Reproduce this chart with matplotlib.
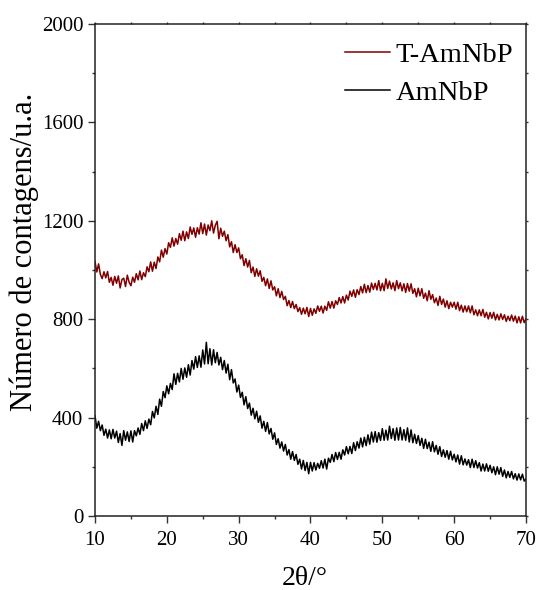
import numpy as np
import matplotlib
matplotlib.use("Agg")
import matplotlib.pyplot as plt
from matplotlib.ticker import MultipleLocator

plt.rcParams['font.family'] = ['Liberation Serif', 'DejaVu Serif']

# scan grid, 0.25 deg step from 10 to 70
two_theta = np.arange(241) * 0.25 + 10

t_amnbp = [
    1035, 992, 1025, 982, 965, 993, 968, 994, 950, 970, 938, 974,
    946, 976, 927, 961, 967, 933, 979, 950, 936, 971, 950, 985,
    960, 996, 961, 989, 973, 1013, 993, 1033, 995, 1032, 1006, 1053,
    1033, 1081, 1052, 1087, 1065, 1111, 1092, 1131, 1097, 1128, 1105, 1148,
    1121, 1158, 1119, 1155, 1128, 1175, 1145, 1171, 1133, 1172, 1146, 1192,
    1148, 1187, 1142, 1183, 1160, 1200, 1150, 1182, 1198, 1127, 1170, 1137,
    1158, 1119, 1144, 1094, 1115, 1071, 1103, 1071, 1090, 1046, 1062, 1018,
    1046, 1012, 1039, 989, 1012, 974, 1005, 975, 997, 954, 970, 936,
    964, 925, 956, 919, 932, 895, 924, 888, 913, 880, 893, 855,
    876, 847, 872, 843, 860, 831, 847, 820, 845, 822, 848, 811,
    844, 816, 842, 824, 854, 832, 853, 825, 853, 836, 871, 845,
    872, 845, 875, 860, 888, 866, 892, 866, 898, 878, 914, 893,
    919, 889, 920, 900, 933, 907, 942, 908, 937, 910, 947, 921,
    946, 919, 957, 916, 946, 916, 964, 925, 955, 923, 948, 916,
    957, 924, 948, 915, 944, 909, 945, 914, 944, 905, 924, 891,
    926, 895, 924, 885, 906, 875, 916, 881, 900, 867, 886, 856,
    893, 860, 882, 849, 875, 843, 869, 849, 869, 841, 869, 835,
    857, 829, 854, 830, 854, 826, 854, 818, 838, 814, 838, 814,
    840, 808, 828, 801, 827, 804, 828, 797, 820, 797, 822, 799,
    818, 791, 812, 794, 817, 792, 813, 785, 810, 785, 812, 786,
    802,
]

amnbp = [
    408, 357, 385, 347, 370, 328, 353, 317, 350, 314, 352, 317,
    345, 299, 335, 287, 347, 308, 342, 303, 346, 301, 347, 326,
    358, 332, 376, 347, 387, 356, 394, 371, 425, 399, 446, 413,
    475, 446, 506, 481, 529, 497, 539, 514, 578, 535, 580, 545,
    600, 556, 602, 564, 615, 573, 632, 597, 648, 604, 651, 605,
    675, 618, 706, 619, 680, 614, 676, 623, 665, 614, 645, 595,
    632, 581, 617, 554, 595, 541, 557, 504, 532, 482, 503, 452,
    485, 437, 459, 410, 438, 395, 426, 381, 407, 357, 385, 344,
    380, 334, 356, 312, 338, 291, 314, 276, 301, 264, 291, 248,
    270, 231, 262, 226, 250, 210, 231, 191, 226, 185, 218, 172,
    218, 183, 217, 187, 214, 194, 225, 195, 231, 191, 235, 218,
    250, 221, 258, 230, 259, 231, 269, 248, 282, 253, 283, 254,
    298, 266, 302, 276, 317, 281, 320, 286, 330, 292, 341, 301,
    343, 300, 339, 307, 355, 308, 349, 309, 365, 315, 355, 308,
    358, 309, 360, 309, 351, 308, 358, 301, 350, 298, 332, 295,
    327, 287, 316, 275, 312, 274, 300, 263, 302, 261, 287, 251,
    282, 242, 269, 239, 266, 231, 263, 228, 251, 220, 248, 211,
    245, 208, 232, 207, 229, 197, 231, 197, 225, 195, 217, 183,
    211, 183, 212, 182, 206, 176, 200, 168, 200, 170, 197, 161,
    187, 155, 181, 157, 181, 151, 172, 146, 171, 147, 170, 142,
    150,
]

fig = plt.figure(figsize=(5.37, 5.90), dpi=100)
ax = fig.add_axes([0.1769, 0.1254, 0.8026, 0.8339])

ax.plot(two_theta, t_amnbp, color='#800000', lw=1.1, label='T-AmNbP')
ax.plot(two_theta, amnbp, color='black', lw=1.1, label='AmNbP')

ax.set_xlim(10, 70)
ax.set_ylim(0, 2000)
ax.xaxis.set_major_locator(MultipleLocator(10))
ax.xaxis.set_minor_locator(MultipleLocator(5))
ax.yaxis.set_major_locator(MultipleLocator(400))
ax.yaxis.set_minor_locator(MultipleLocator(200))

ax.tick_params(which='both', direction='out', labelsize=15, width=1.0, color='#333333')
ax.tick_params(which='major', length=5)
ax.tick_params(which='minor', length=2.5)
ax.tick_params(axis='x', which='major', pad=6)
ax.tick_params(which='both', top=True, right=True)
# short marks on top and right sides
for t in ax.xaxis.get_major_ticks() + ax.xaxis.get_minor_ticks():
    t.tick2line.set_markersize(1.5)
for t in ax.yaxis.get_major_ticks() + ax.yaxis.get_minor_ticks():
    t.tick2line.set_markersize(1.5)
for s in ax.spines.values():
    s.set_linewidth(1.1)
    s.set_color('#222222')

ax.set_xlabel('2θ/°', fontsize=20)
ax.xaxis.set_label_coords(0.487, -0.102)
ax.set_ylabel('Número de contagens/u.a.', fontsize=22)
ax.yaxis.set_label_coords(-0.13, 0.537)

leg = ax.legend(loc='upper right', bbox_to_anchor=(1.014, 1.0), frameon=False,
                fontsize=20.5, handlelength=1.6, handletextpad=0.2,
                borderaxespad=0.25, labelspacing=0.42)

fig.savefig('out.png', dpi=100)
